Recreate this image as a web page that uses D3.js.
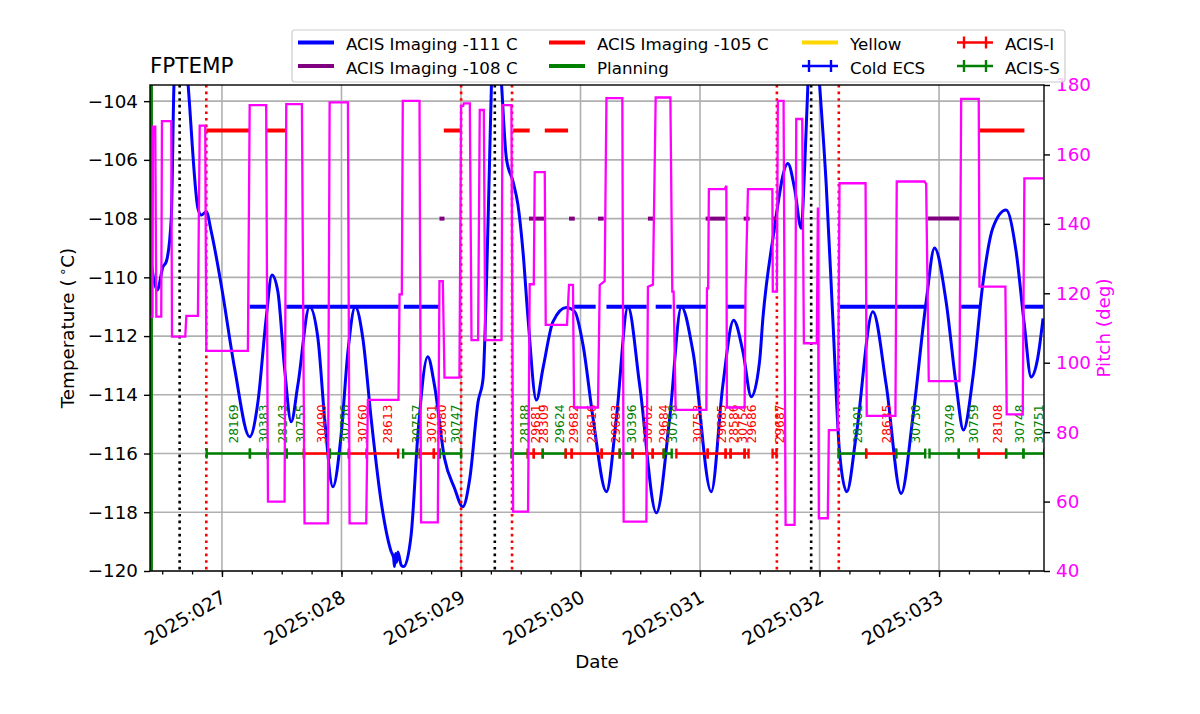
<!DOCTYPE html>
<html>
<head>
<meta charset="utf-8">
<script src="https://cdn.jsdelivr.net/npm/d3@7"></script>
<style>
body { margin: 0; background: #fff; }
svg text { font-family: "DejaVu Sans", sans-serif; }
</style>
</head>
<body>
<div id="grafico"></div>
<script>
ancho = 1200;
alto = 714;
izq = 150;
der = 1044;
sup = 85;
inf = 571;

// FPTEMP, dia del año 2025 y grados C
var tempDia = [26.396, 26.459, 26.507, 26.534, 26.576, 26.599, 26.657, 26.716, 26.799, 26.827,
    26.869, 26.911, 26.994, 27.106, 27.232, 27.301, 27.370, 27.418, 27.468, 27.524,
    27.579, 27.635, 27.733, 27.803, 27.859, 27.928, 27.997, 28.054, 28.115, 28.179,
    28.248, 28.332, 28.416, 28.436, 28.444, 28.452, 28.462, 28.472, 28.500, 28.522,
    28.583, 28.639, 28.722, 28.778, 28.862, 28.946, 29.015, 29.074, 29.143, 29.185,
    29.213, 29.241, 29.255, 29.297, 29.339, 29.380, 29.436, 29.477, 29.519, 29.561,
    29.631, 29.686, 29.770, 29.882, 29.952, 30.021, 30.105, 30.217, 30.300, 30.397,
    30.495, 30.635, 30.746, 30.844, 30.941, 31.094, 31.191, 31.281, 31.359, 31.429,
    31.498, 31.526, 31.609, 31.735, 31.791, 31.847, 31.875, 31.903, 31.950, 32.000,
    32.056, 32.111, 32.167, 32.228, 32.307, 32.446, 32.558, 32.683, 32.780, 32.892,
    32.962, 33.059, 33.143, 33.204, 33.282, 33.365, 33.449, 33.561, 33.645, 33.714,
    33.770, 33.825, 33.870];
var tempValor = [-109.13, -110.43, -109.64, -109.47, -107.99, -103.4, -100.5, -103.4, -107.65, -107.88,
    -107.77, -108.45, -110.26, -113.10, -115.43, -114.24, -111.40, -109.92, -110.49, -113.10,
    -114.92, -113.67, -111.00, -112.08, -114.80, -117.13, -115.37, -112.53, -111.00, -112.08,
    -114.80, -117.64, -119.34, -119.55, -119.85, -119.40, -119.70, -119.35, -119.80, -119.85,
    -118.77, -115.37, -112.70, -113.67, -116.16, -117.18, -117.81, -116.84, -114.24, -113.44,
    -110.26, -105.72, -103.4, -100.5, -103.4, -105.95, -106.75, -107.54, -109.13, -111.40,
    -114.18, -113.10, -111.51, -111.03, -111.17, -112.30, -114.80, -117.30, -114.80, -111.00,
    -113.67, -118.02, -114.80, -111.00, -112.53, -117.30, -113.67, -111.46, -112.53, -114.07,
    -112.87, -111.40, -108.70, -106.12, -106.97, -108.33, -106.29, -103.4, -100.5, -103.4,
    -106.86, -111.40, -115.94, -117.30, -115.37, -111.17, -113.67, -117.36, -114.80, -110.83,
    -109.00, -110.83, -113.67, -115.20, -113.44, -110.26, -108.33, -107.71, -109.13, -111.63,
    -113.39, -112.76, -111.40];

// pitch, dia del año y grados
var pitchDia = [26.398, 26.419, 26.423, 26.442, 26.451, 26.492, 26.498, 26.576, 26.582, 26.693,
    26.702, 26.799, 26.814, 26.860, 26.869, 27.217, 27.232, 27.370, 27.385, 27.524,
    27.538, 27.669, 27.691, 27.886, 27.901, 28.054, 28.068, 28.207, 28.221, 28.477,
    28.486, 28.505, 28.513, 28.653, 28.666, 28.806, 28.820, 28.848, 28.862, 28.987,
    29.001, 29.018, 29.023, 29.074, 29.088, 29.143, 29.157, 29.191, 29.203, 29.339,
    29.347, 29.422, 29.436, 29.561, 29.575, 29.609, 29.617, 29.701, 29.709, 29.887,
    29.904, 29.937, 29.946, 30.146, 30.161, 30.202, 30.217, 30.350, 30.361, 30.551,
    30.564, 30.606, 30.629, 30.752, 30.768, 30.779, 30.796, 31.053, 31.058, 31.068,
    31.074, 31.206, 31.220, 31.225, 31.373, 31.381, 31.401, 31.605, 31.609, 31.643,
    31.651, 31.699, 31.716, 31.791, 31.805, 31.855, 31.869, 31.977, 31.986, 31.994,
    32.069, 32.078, 32.153, 32.167, 32.385, 32.395, 32.635, 32.646, 32.878, 32.892,
    32.914, 33.171, 33.185, 33.332, 33.338, 33.555, 33.566, 33.700, 33.714, 33.873];
var pitchValor = [113.3, 113.3, 168.0, 168.0, 113.3, 113.3, 169.6, 169.6, 107.5, 107.5,
    113.5, 113.5, 168.3, 168.3, 103.4, 103.4, 174.2, 174.2, 60.0, 60.0,
    174.5, 174.5, 53.7, 53.7, 175.0, 175.0, 53.7, 53.7, 89.3, 89.3,
    119.7, 119.7, 175.4, 175.4, 54.0, 54.0, 123.5, 123.5, 95.7, 95.7,
    174.0, 174.0, 174.7, 174.7, 106.5, 106.5, 172.8, 172.8, 106.5, 106.5,
    174.2, 174.2, 57.1, 57.1, 122.6, 122.6, 154.9, 154.9, 110.9, 110.9,
    122.4, 122.4, 87.1, 87.1, 122.4, 123.5, 176.2, 176.2, 54.2, 54.2,
    121.9, 122.5, 176.4, 176.4, 120.5, 120.5, 86.4, 86.4, 121.4, 121.4,
    150.0, 150.0, 151.0, 87.1, 87.1, 121.0, 150.0, 150.0, 120.5, 120.5,
    175.4, 175.4, 53.3, 53.3, 170.2, 170.2, 105.6, 105.6, 144.7, 55.2,
    55.2, 80.6, 80.6, 151.7, 151.7, 84.7, 84.7, 152.2, 152.2, 151.5,
    94.7, 94.7, 176.0, 176.0, 121.9, 121.9, 85.1, 85.1, 153.1, 153.1];

// limites [inicio, fin]
var lim111 = [[27.232, 27.370], [27.538, 28.486], [28.522, 28.820], [29.937, 30.127], [30.217, 30.554],
    [30.629, 30.763], [30.802, 31.053], [31.220, 31.381], [32.167, 32.886], [33.185, 33.338], [33.714, 33.873]];
var lim105 = [[26.869, 27.233], [27.372, 27.541], [28.856, 29.001], [29.436, 29.575], [29.701, 29.896], [33.338, 33.714]];
var lim108 = [[28.820, 28.862], [29.569, 29.701], [29.904, 29.952], [30.146, 30.194], [30.564, 30.612],
    [31.047, 31.214], [31.365, 31.415], [31.605, 31.651], [32.906, 33.171]];

var lineasRojas = [26.869, 29.001, 29.427, 31.643, 32.161];
var lineasNegras = [26.646, 29.283, 31.930];
var lineasVerdes = [26.410];

// observaciones
var obsId = ["28169", "30383", "28143", "30755", "30490", "30756", "30760", "28613", "30757", "30761",
    "29680", "30747", "28188", "29681", "28309", "29624", "29682", "28616", "29683", "30396",
    "30762", "29684", "30758", "30753", "29685", "28586", "30754", "29686", "29687", "28101",
    "28635", "30730", "30749", "30759", "28108", "30748", "30751"];
var obsIni = [26.872, 27.234, 27.382, 27.541, 27.686, 27.903, 28.062, 28.212, 28.516, 28.656,
    28.773, 28.823, 29.422, 29.559, 29.609, 29.684, 29.876, 29.926, 30.177, 30.328,
    30.436, 30.604, 30.696, 30.802, 31.064, 31.214, 31.256, 31.373, 31.607, 32.159,
    32.390, 32.641, 32.920, 33.165, 33.332, 33.561, 33.706];
var obsFin = [27.234, 27.382, 27.541, 27.686, 27.903, 28.062, 28.212, 28.474, 28.656, 28.773,
    28.823, 29.001, 29.559, 29.609, 29.684, 29.876, 29.926, 30.177, 30.328, 30.436,
    30.604, 30.696, 30.763, 31.064, 31.214, 31.256, 31.373, 31.406, 31.640, 32.390,
    32.641, 32.884, 33.165, 33.332, 33.561, 33.706, 33.881];
var obsInst = ["S", "S", "S", "S", "I", "S", "I", "I", "S", "I",
    "I", "S", "S", "I", "I", "S", "I", "I", "I", "S",
    "I", "I", "S", "I", "I", "I", "I", "I", "I", "S",
    "I", "S", "S", "S", "I", "S", "S"];

var ticksTemp = [-120, -118, -116, -114, -112, -110, -108, -106, -104];
var ticksPitch = [40, 60, 80, 100, 120, 140, 160, 180];

var leyendaNombre = ["ACIS Imaging -111 C", "ACIS Imaging -108 C", "ACIS Imaging -105 C", "Planning",
    "Yellow", "Cold ECS", "ACIS-I", "ACIS-S"];
var leyendaColor = ["blue", "purple", "red", "green", "gold", "blue", "red", "green"];

function fecha(d) {
    return new Date(Date.UTC(2025, 0, 1) + (d - 1) * 864e5);
}
function colorInst(s) {
    return s == "I" ? "red" : "green";
}

var svg = d3.select("#grafico")
    .append("svg")
    .attr("width", ancho)
    .attr("height", alto);

var escalaX = d3.scaleUtc()
    .domain([fecha(26.398), fecha(33.878)])
    .range([izq, der]);
var escalaT = d3.scaleLinear()
    .domain([-120, -103.45])
    .range([inf, sup]);
var escalaP = d3.scaleLinear()
    .domain([40, 180])
    .range([inf, sup]);

svg.append("clipPath").attr("id", "recorte")
    .append("rect")
    .attr("x", izq).attr("y", sup)
    .attr("width", der - izq).attr("height", inf - sup);

// rejilla
var dias = escalaX.ticks(d3.utcDay.every(1));
svg.append("g").selectAll("line")
    .data(dias).enter().append("line")
    .attr("x1", function(d) { return escalaX(d); })
    .attr("x2", function(d) { return escalaX(d); })
    .attr("y1", sup).attr("y2", inf)
    .attr("stroke", "#b0b0b0").attr("stroke-width", 1.6);
svg.append("g").selectAll("line")
    .data(ticksTemp).enter().append("line")
    .attr("x1", izq).attr("x2", der)
    .attr("y1", function(d) { return escalaT(d); })
    .attr("y2", function(d) { return escalaT(d); })
    .attr("stroke", "#b0b0b0").attr("stroke-width", 1.6);

var zona = svg.append("g").attr("clip-path", "url(#recorte)");

// temperatura
var lineaTemp = d3.line()
    .x(function(d, i) { return escalaX(fecha(tempDia[i])); })
    .y(function(d) { return escalaT(d); })
    .curve(d3.curveMonotoneX);
zona.append("path")
    .datum(tempValor)
    .attr("d", lineaTemp)
    .attr("fill", "none")
    .attr("stroke", "blue")
    .attr("stroke-width", 3);

function limites(datos, valor, color) {
    zona.append("g").selectAll("line")
        .data(datos).enter().append("line")
        .attr("x1", function(d) { return escalaX(fecha(d[0])); })
        .attr("x2", function(d) { return escalaX(fecha(d[1])); })
        .attr("y1", escalaT(valor)).attr("y2", escalaT(valor))
        .attr("stroke", color).attr("stroke-width", 4);
}
limites(lim111, -111, "blue");
limites(lim105, -105, "red");
limites(lim108, -108, "purple");

function verticales(datos, color, guiones, grosor) {
    zona.append("g").selectAll("line")
        .data(datos).enter().append("line")
        .attr("x1", function(d) { return escalaX(fecha(d)); })
        .attr("x2", function(d) { return escalaX(fecha(d)); })
        .attr("y1", sup).attr("y2", inf)
        .attr("stroke", color).attr("stroke-width", grosor)
        .attr("stroke-dasharray", guiones);
}
verticales(lineasRojas, "red", "2.6,4", 2.6);
verticales(lineasNegras, "black", "2.6,4", 2.6);
verticales(lineasVerdes, "green", null, 3);

// observaciones
var yObs = escalaT(-116);
var obs = zona.append("g").selectAll("g")
    .data(obsId).enter().append("g");
obs.append("line")
    .attr("x1", function(d, i) { return escalaX(fecha(obsIni[i])); })
    .attr("x2", function(d, i) { return escalaX(fecha(obsFin[i])); })
    .attr("y1", yObs).attr("y2", yObs)
    .attr("stroke", function(d, i) { return colorInst(obsInst[i]); })
    .attr("stroke-width", 2.6);
obs.append("line")
    .attr("x1", function(d, i) { return escalaX(fecha(obsIni[i])); })
    .attr("x2", function(d, i) { return escalaX(fecha(obsIni[i])); })
    .attr("y1", yObs - 5).attr("y2", yObs + 5)
    .attr("stroke", function(d, i) { return colorInst(obsInst[i]); })
    .attr("stroke-width", 2.4);
obs.append("line")
    .attr("x1", function(d, i) { return escalaX(fecha(obsFin[i])); })
    .attr("x2", function(d, i) { return escalaX(fecha(obsFin[i])); })
    .attr("y1", yObs - 5).attr("y2", yObs + 5)
    .attr("stroke", function(d, i) { return colorInst(obsInst[i]); })
    .attr("stroke-width", 2.4);
obs.append("text")
    .text(function(d) { return d; })
    .attr("transform", function(d, i) {
        var m = escalaX(fecha((obsIni[i] + obsFin[i]) / 2)) + 9.5;
        return "translate(" + m + "," + (yObs - 10) + ") rotate(-90)";
    })
    .attr("font-size", "12.3px")
    .attr("fill", function(d, i) { return colorInst(obsInst[i]); });

// pitch
var lineaPitch = d3.line()
    .x(function(d, i) { return escalaX(fecha(pitchDia[i])); })
    .y(function(d) { return escalaP(d); });
zona.append("path")
    .datum(pitchValor)
    .attr("d", lineaPitch)
    .attr("fill", "none")
    .attr("stroke", "#ff00ff")
    .attr("stroke-width", 2.3);

// marco
svg.append("rect")
    .attr("x", izq).attr("y", sup)
    .attr("width", der - izq).attr("height", inf - sup)
    .attr("fill", "none").attr("stroke", "black").attr("stroke-width", 1.4);

// ejes
svg.append("g")
    .attr("transform", "translate(0," + inf + ")")
    .call(d3.axisBottom(escalaX).ticks(d3.utcHour.every(6)).tickSize(3.5).tickFormat(""))
    .call(function(g) { g.select(".domain").remove(); })
    .selectAll("line").attr("stroke-width", 1.3);

var ejeX = svg.append("g")
    .attr("transform", "translate(0," + inf + ")")
    .call(d3.axisBottom(escalaX).ticks(d3.utcDay.every(1)).tickSize(6).tickFormat(d3.utcFormat("%Y:%j")))
    .call(function(g) { g.select(".domain").remove(); })
    .attr("font-size", "18.8px")
    .attr("font-family", "DejaVu Sans, sans-serif");
ejeX.selectAll("line").attr("stroke-width", 1.4);
ejeX.selectAll("text")
    .attr("x", 0).attr("y", 0).attr("dy", 0)
    .attr("transform", "translate(5,30) rotate(-30)")
    .style("text-anchor", "end");

var ejeT = svg.append("g")
    .attr("transform", "translate(" + izq + ",0)")
    .call(d3.axisLeft(escalaT).tickValues(ticksTemp).tickSize(6).tickPadding(6).tickFormat(d3.format("d")))
    .call(function(g) { g.select(".domain").remove(); })
    .attr("font-size", "18.3px")
    .attr("font-family", "DejaVu Sans, sans-serif");
ejeT.selectAll("line").attr("stroke-width", 1.4);

var ejeP = svg.append("g")
    .attr("transform", "translate(" + der + ",0)")
    .call(d3.axisRight(escalaP).tickValues(ticksPitch).tickSize(6).tickPadding(6))
    .call(function(g) { g.select(".domain").remove(); })
    .attr("font-size", "18.3px")
    .attr("font-family", "DejaVu Sans, sans-serif");
ejeP.selectAll("line").attr("stroke-width", 1.4);
ejeP.selectAll("text").attr("fill", "#ff00ff");

// textos
svg.append("text")
    .text("FPTEMP")
    .attr("x", izq).attr("y", 73)
    .attr("font-size", "21.5px");

svg.append("text")
    .text("Date")
    .attr("x", (izq + der) / 2).attr("y", 668)
    .attr("text-anchor", "middle")
    .attr("font-size", "18.3px");

var tituloT = svg.append("text")
    .attr("transform", "translate(74," + ((sup + inf) / 2) + ") rotate(-90)")
    .attr("text-anchor", "middle")
    .attr("font-size", "18.3px");
tituloT.append("tspan").text("Temperature (\u2009");
tituloT.append("tspan").text("\u2218").attr("font-size", "13px").attr("dy", "-7");
tituloT.append("tspan").text("C)").attr("dy", "7");

svg.append("text")
    .text("Pitch (deg)")
    .attr("transform", "translate(1110," + ((sup + inf) / 2) + ") rotate(-90)")
    .attr("text-anchor", "middle")
    .attr("font-size", "18.3px")
    .attr("fill", "#ff00ff");

// leyenda
svg.append("rect")
    .attr("x", 292).attr("y", 30)
    .attr("width", 773).attr("height", 52)
    .attr("rx", 3)
    .attr("fill", "white").attr("fill-opacity", 0.8)
    .attr("stroke", "#cccccc").attr("stroke-width", 1.2);

var colX = [298, 549, 802, 957];
var filaY = [42.5, 66];
var items = svg.append("g").selectAll("g")
    .data(leyendaNombre).enter().append("g")
    .attr("transform", function(d, i) {
        return "translate(" + colX[Math.floor(i / 2)] + "," + filaY[i % 2] + ")";
    });
items.append("line")
    .attr("x1", 0).attr("x2", 36).attr("y1", 0).attr("y2", 0)
    .attr("stroke", function(d, i) { return leyendaColor[i]; })
    .attr("stroke-width", function(d, i) { return i < 5 ? 4 : 2.6; });
items.filter(function(d, i) { return i >= 5; })
    .selectAll("line.cap")
    .data([7, 29]).enter().append("line")
    .attr("class", "cap")
    .attr("x1", function(d) { return d; }).attr("x2", function(d) { return d; })
    .attr("y1", -6).attr("y2", 6)
    .attr("stroke", function() { return d3.select(this.parentNode).select("line").attr("stroke"); })
    .attr("stroke-width", 2.4);
items.append("text")
    .text(function(d) { return d; })
    .attr("x", 48).attr("y", 7.5)
    .attr("font-size", "16.7px");
</script>
</body>
</html>
